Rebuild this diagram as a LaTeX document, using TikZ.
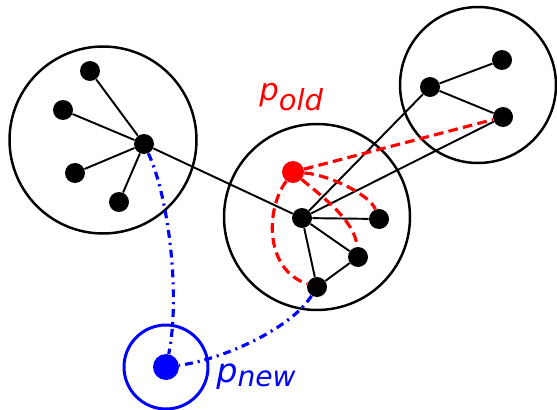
\documentclass[tikz,border=0pt]{standalone}
\usepackage{fontspec}
\newfontfamily\labelfont{DejaVu Sans}
\begin{document}
\begin{tikzpicture}[
  x=0.02cm, y=-0.02cm,
  cluster/.style={circle, draw, line width=1.4pt, inner sep=0pt},
  dot/.style={circle, fill, inner sep=0pt, minimum size=0.4cm},
  link/.style={line width=1.1pt},
  oldlink/.style={red, line width=1.8pt, dash pattern=on 5.5pt off 3pt},
  newlink/.style={blue, line width=1.8pt, dash pattern=on 4.5pt off 2.8pt on 1.2pt off 2.8pt},
  lbl/.style={font=\labelfont\itshape, inner sep=0pt, anchor=base west}
]
\useasboundingbox (0,0) rectangle (557,409);

\node[cluster, minimum size=3.74cm] (left) at (103,140) {};
\node[cluster, minimum size=3.72cm] (mid) at (317,217) {};
\node[cluster, minimum size=3.12cm] (right) at (478,85) {};
\node[cluster, blue, line width=1.7pt, minimum size=1.68cm] (ring) at (166,367) {};

\node[dot] (lhub) at (144,144) {};
\node[dot] (l1) at (90,71) {};
\node[dot] (l2) at (63,110) {};
\node[dot] (l3) at (75,173) {};
\node[dot] (l4) at (119,202) {};

\node[dot] (mhub) at (302,218) {};
\node[dot] (m1) at (379,219) {};
\node[dot] (m2) at (358,257) {};
\node[dot] (m3) at (317,287) {};

\node[dot] (rhub) at (430,87) {};
\node[dot] (r1) at (502,60) {};
\node[dot] (r2) at (503,117) {};

\node[dot, red, minimum size=0.44cm] (pold) at (293,172) {};
\node[dot, blue, minimum size=0.52cm] (pnew) at (166,367) {};

\node[lbl, red] (oldlabel) at (259,100) {\fontsize{17.5}{20}\selectfont p\fontsize{16.5}{20}\selectfont\raisebox{-5.7pt}{old}};
\node[lbl, blue] (newlabel) at (216,382) {\fontsize{19}{22}\selectfont p\fontsize{16}{20}\selectfont\raisebox{-2.8pt}{new}};

\foreach \n in {l1,l2,l3,l4}
  \draw[link] (lhub) -- (\n);
\draw[link] (lhub) -- (mhub);
\foreach \n in {m1,m2,m3,rhub,r2}
  \draw[link] (mhub) -- (\n);
\draw[link] (m3) -- (m2);
\draw[link] (rhub) -- (r1);
\draw[link] (rhub) -- (r2);

\draw[oldlink] (pold) -- (r2);
\draw[oldlink] (pold) .. controls (330,175) and (370,195) .. (m1);
\draw[oldlink] (pold) .. controls (320,195) and (355,220) .. (m2);
\draw[oldlink] (pold) .. controls (265,210) and (265,270) .. (m3);

\draw[newlink] (lhub) .. controls (170,200) and (180,300) .. (pnew);
\draw[newlink] (m3) .. controls (290,330) and (220,360) .. (pnew);
\end{tikzpicture}
\end{document}
